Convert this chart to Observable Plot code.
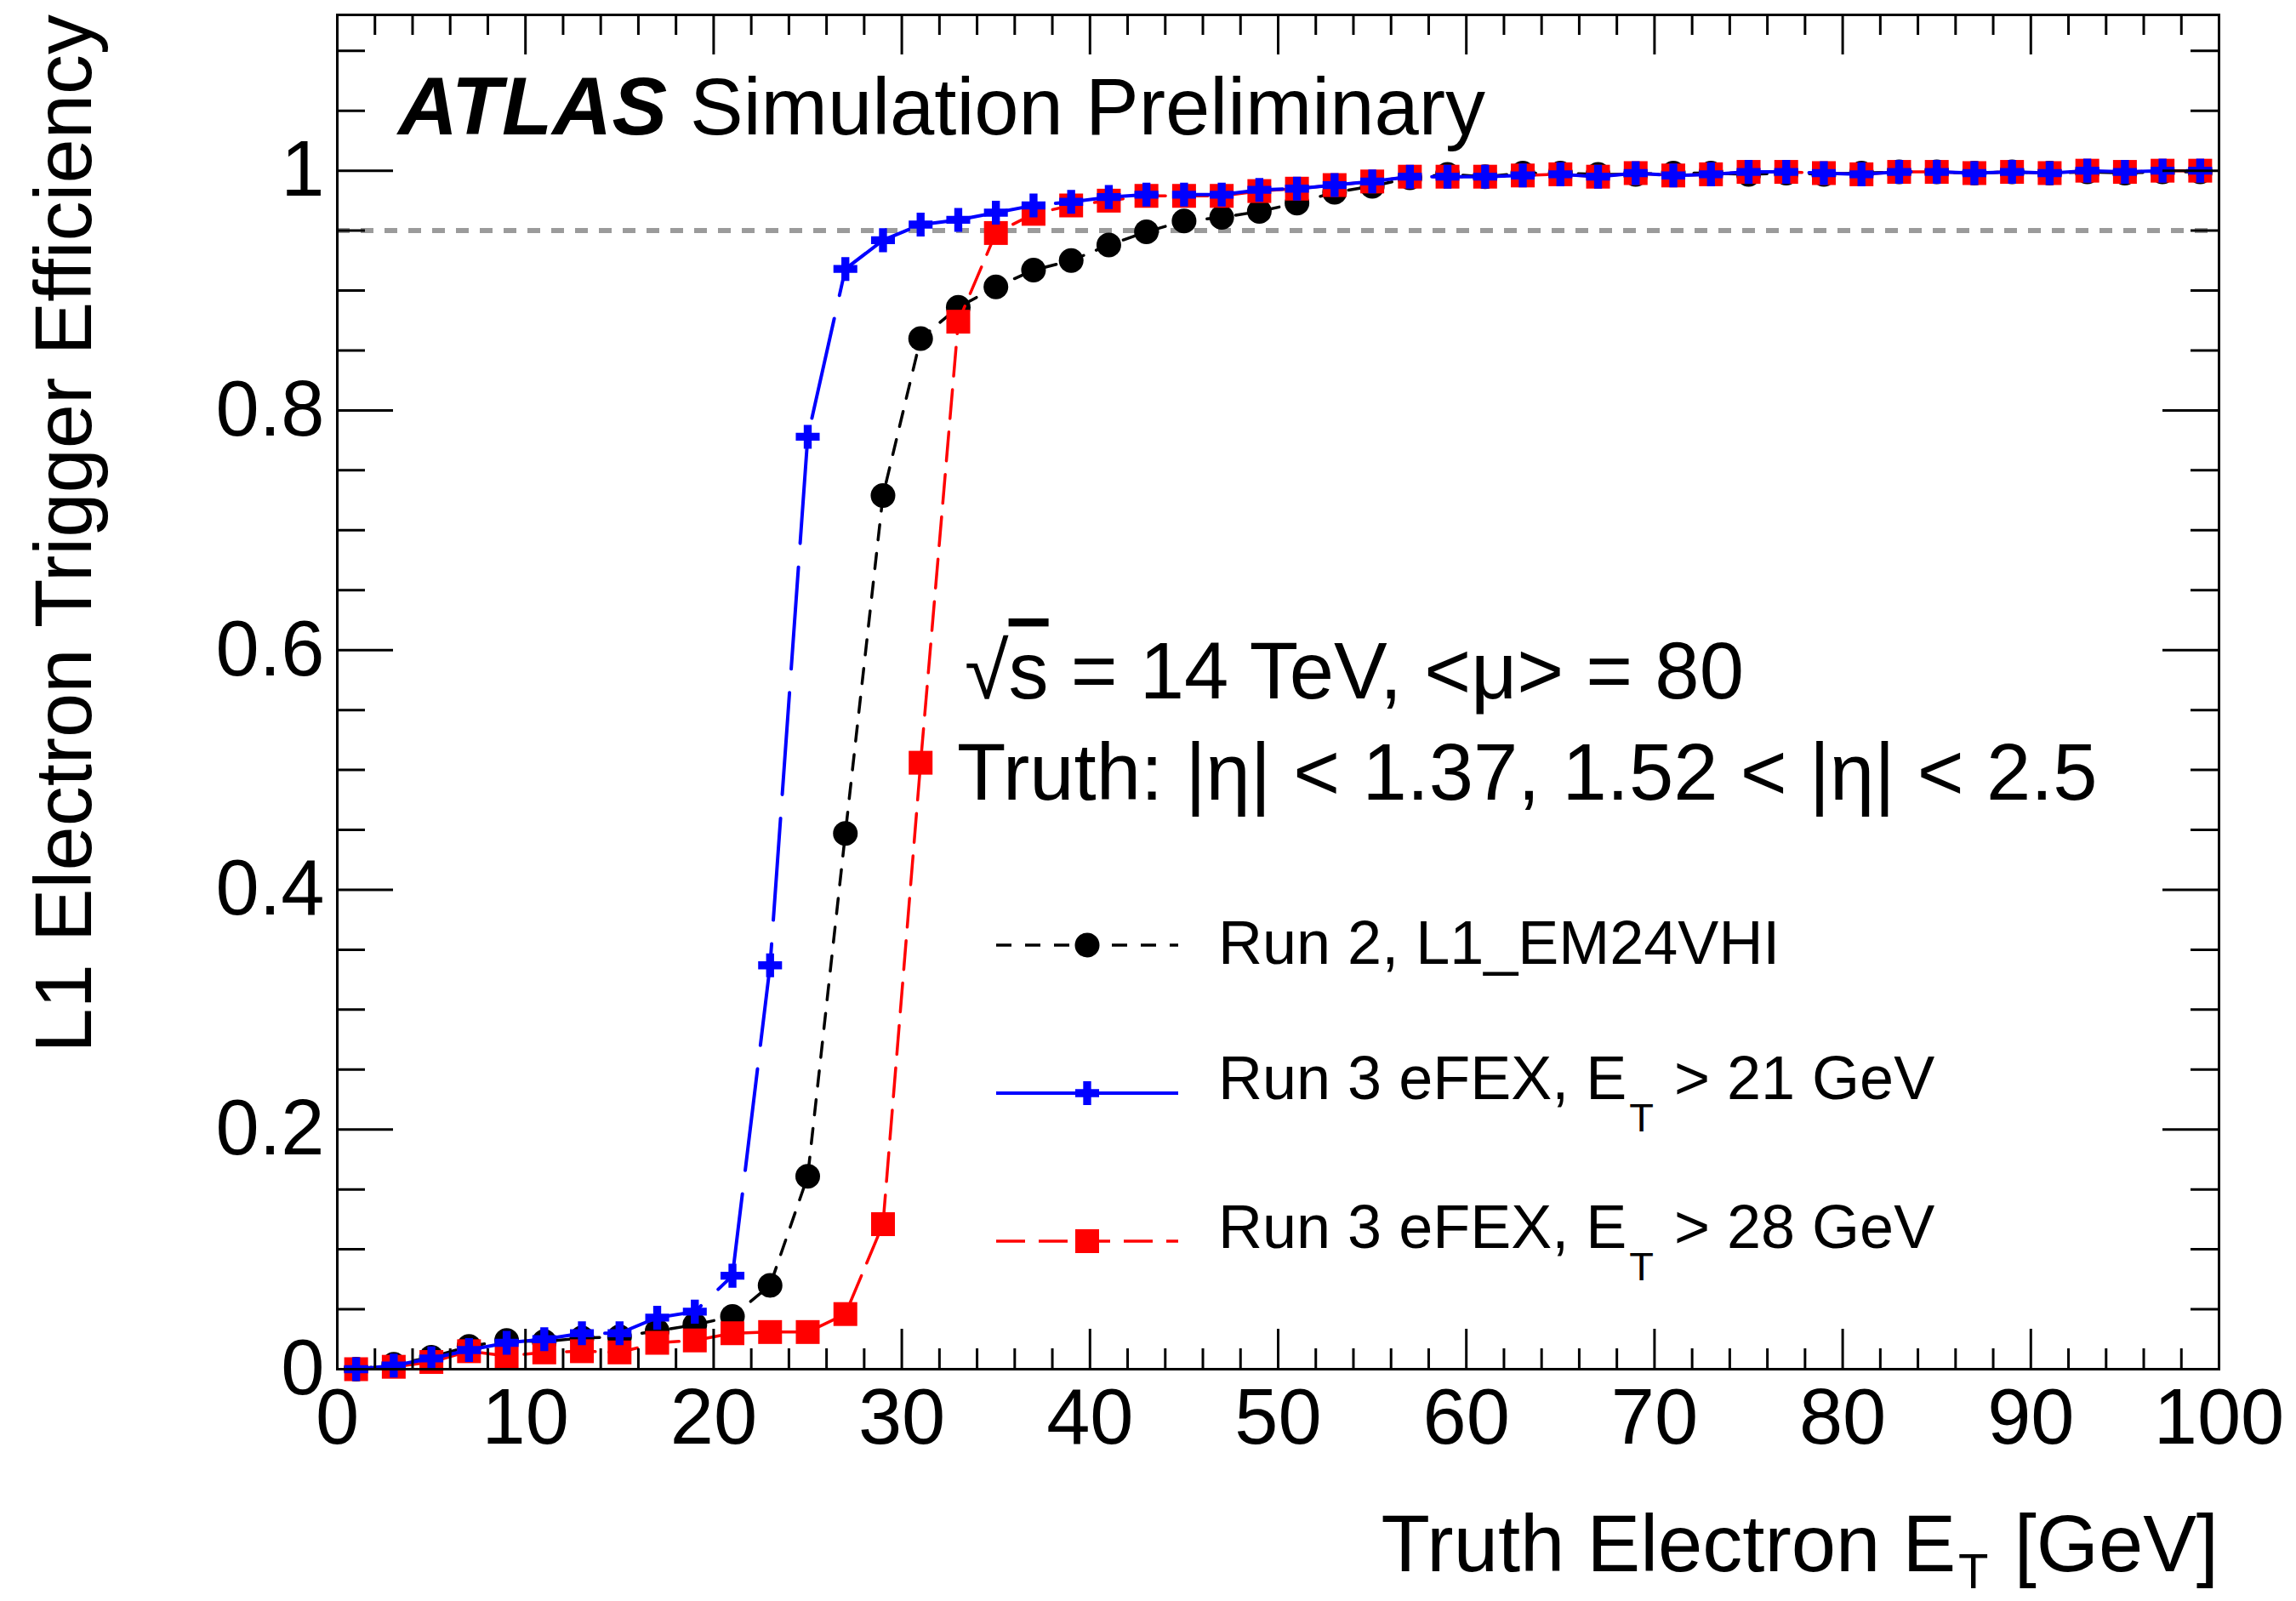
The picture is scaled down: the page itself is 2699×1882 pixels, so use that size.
<!DOCTYPE html>
<html>
<head>
<meta charset="utf-8">
<script src="https://cdn.jsdelivr.net/npm/d3@7"></script>
<script src="https://cdn.jsdelivr.net/npm/@observablehq/plot@0.6"></script>
<style>
  html, body { margin: 0; padding: 0; background: #ffffff; }
  #chart { width: 2699px; height: 1882px; }
</style>
</head>
<body>
<div id="chart"></div>
<script>
// ---------------- data ----------------
const etBins = [1,3,5,7,9,11,13,15,17,19,21,23,25,27,29,31,33,35,37,39,41,43,45,47,49,
                51,53,55,57,59,61,63,65,67,69,71,73,75,77,79,81,83,85,87,89,91,93,95,97,99];

const run2Eff = [0.000,0.004,0.010,0.019,0.024,0.023,0.026,0.027,0.032,0.037,
                 0.044,0.070,0.161,0.447,0.729,0.860,0.886,0.903,0.917,0.925,
                 0.938,0.949,0.958,0.961,0.966,0.973,0.982,0.987,0.994,0.997,
                 0.995,0.998,0.998,0.997,0.997,0.998,0.998,0.997,0.998,0.997,
                 0.998,0.999,0.999,0.998,0.999,0.998,0.999,0.998,0.999,0.999];

const efex21Eff = [0.000,0.003,0.009,0.016,0.022,0.025,0.030,0.030,0.043,0.048,
                   0.078,0.337,0.778,0.918,0.942,0.955,0.959,0.965,0.971,0.974,
                   0.978,0.980,0.980,0.980,0.984,0.985,0.988,0.991,0.995,0.995,
                   0.995,0.996,0.997,0.995,0.998,0.996,0.997,0.999,0.999,0.998,
                   0.997,0.999,0.999,0.998,0.999,0.998,1.000,0.999,1.000,1.000];

const efex28Eff = [0.000,0.002,0.006,0.015,0.011,0.014,0.015,0.014,0.022,0.024,
                   0.030,0.031,0.031,0.046,0.121,0.506,0.874,0.948,0.964,0.971,
                   0.975,0.979,0.979,0.979,0.983,0.985,0.988,0.991,0.995,0.995,
                   0.995,0.996,0.997,0.995,0.998,0.996,0.997,0.999,0.999,0.998,
                   0.997,0.999,0.999,0.998,0.999,0.998,1.000,0.999,1.000,1.000];

const seriesNames = ["Run 2, L1_EM24VHI", "Run 3 eFEX, E_{T} > 21 GeV", "Run 3 eFEX, E_{T} > 28 GeV"];
const seriesColors = ["#000000", "#0000ff", "#ff0000"];

const xMajorTicks = [0,10,20,30,40,50,60,70,80,90,100];
const xMinorTicks = d3.range(0, 101, 2).filter(d => d % 10 !== 0);
const yMajorTicks = [0,0.2,0.4,0.6,0.8,1];
const yMinorTicks = [0.05,0.1,0.15,0.25,0.3,0.35,0.45,0.5,0.55,0.65,0.7,0.75,0.85,0.9,0.95,1.05,1.1];
const threshold = 0.95;

const xTitle = "Truth Electron E_{T} [GeV]";
const yTitle = "L1 Electron Trigger Efficiency";
const atlasLabel = "ATLAS";
const atlasSuffix = "Simulation Preliminary";
const infoLine1 = ["√", "s", " = 14 TeV, <μ> = 80"];
const infoLine2 = "Truth: |η| < 1.37, 1.52 < |η| < 2.5";

// ---------------- layout ----------------
const FONT = "'Liberation Sans', Arial, Helvetica, sans-serif";
const W = 2699, H = 1882;
const mL = 396, mR = 91, mT = 17, mB = 273;
const FW = W - mL - mR, FH = H - mT - mB;

const rows = s => etBins.map((et, i) => ({et, eff: s[i]}));
const run2Rows = rows(run2Eff), e21Rows = rows(efex21Eff), e28Rows = rows(efex28Eff);

const styles = {
  run2: {stroke: seriesColors[0], dash: "18,16", width: 3.5, symbol: "circle", r: 14.5},
  e21:  {stroke: seriesColors[1], dash: "120,28", width: 4, symbol: "cross", r: 11.8},
  e28:  {stroke: seriesColors[2], dash: "34,16", width: 3.5, symbol: "square", r: 15.8}
};

const tickStyle = {stroke: "#000", strokeWidth: 3};

const plot = Plot.plot({
  width: W, height: H,
  marginLeft: mL, marginRight: mR, marginTop: mT, marginBottom: mB,
  style: {background: "#ffffff", fontFamily: FONT, color: "#000"},
  x: {domain: [0, 100], axis: null},
  y: {domain: [0, 1.13], axis: null},
  marks: [
    Plot.ruleY([threshold], {stroke: "#9b9b9b", strokeWidth: 6, strokeDasharray: "15,13"}),
    Plot.line(run2Rows, {x: "et", y: "eff", stroke: styles.run2.stroke, strokeWidth: styles.run2.width, strokeDasharray: styles.run2.dash}),
    Plot.dot(run2Rows, {x: "et", y: "eff", symbol: styles.run2.symbol, r: styles.run2.r, fill: styles.run2.stroke}),
    Plot.line(e28Rows, {x: "et", y: "eff", stroke: styles.e28.stroke, strokeWidth: styles.e28.width, strokeDasharray: styles.e28.dash}),
    Plot.dot(e28Rows, {x: "et", y: "eff", symbol: styles.e28.symbol, r: styles.e28.r, fill: styles.e28.stroke}),
    Plot.line(e21Rows, {x: "et", y: "eff", stroke: styles.e21.stroke, strokeWidth: styles.e21.width, strokeDasharray: styles.e21.dash}),
    Plot.dot(e21Rows, {x: "et", y: "eff", symbol: styles.e21.symbol, r: styles.e21.r, fill: styles.e21.stroke}),
    // inward ticks (bottom/top/left/right)
    Plot.tickX(xMajorTicks, {x: d => d, ...tickStyle, insetTop: FH - 47}),
    Plot.tickX(xMinorTicks, {x: d => d, ...tickStyle, insetTop: FH - 24}),
    Plot.tickX(xMajorTicks, {x: d => d, ...tickStyle, insetBottom: FH - 47}),
    Plot.tickX(xMinorTicks, {x: d => d, ...tickStyle, insetBottom: FH - 24}),
    Plot.tickY(yMajorTicks, {y: d => d, ...tickStyle, insetRight: FW - 66}),
    Plot.tickY(yMinorTicks, {y: d => d, ...tickStyle, insetRight: FW - 33}),
    Plot.tickY(yMajorTicks, {y: d => d, ...tickStyle, insetLeft: FW - 66}),
    Plot.tickY(yMinorTicks, {y: d => d, ...tickStyle, insetLeft: FW - 33}),
    Plot.frame({stroke: "#000", strokeWidth: 3}),
    // tick labels
    Plot.text(xMajorTicks, {x: d => d, frameAnchor: "bottom", lineAnchor: "top", dy: 22,
      text: d => String(d), fontSize: 92, fill: "#000"}),
    Plot.text(yMajorTicks, {y: d => d, frameAnchor: "left", textAnchor: "end", dx: -15,
      text: d => String(d), fontSize: 92, fill: "#000"})
  ]
});

document.getElementById("chart").appendChild(plot);

// ---------------- annotations ----------------
const svg = d3.select(plot);
const g = svg.append("g").attr("font-family", FONT).attr("fill", "#000").attr("text-anchor", "start");

function richText(sel, str, subSize, subDy) {
  const parts = str.split(/_\{([^}]*)\}/);
  let shifted = 0;
  parts.forEach((p, i) => {
    if (i % 2 === 1) {
      sel.append("tspan").attr("font-size", subSize).attr("dy", subDy).attr("dx", 3).text(p);
      shifted = subDy;
    } else {
      if (!p) return;
      const ts = sel.append("tspan").text(p);
      if (shifted) { ts.attr("dy", -shifted).attr("dx", 4); shifted = 0; }
    }
  });
}

// ATLAS Simulation Preliminary
g.append("text").attr("x", 468).attr("y", 158).attr("font-size", 97)
  .attr("font-weight", "bold").attr("font-style", "italic").text(atlasLabel);
g.append("text").attr("x", 811).attr("y", 158).attr("font-size", 94).text(atlasSuffix);

// sqrt(s) line
const l1 = g.append("text").attr("x", 1134).attr("y", 821).attr("font-size", 94);
l1.append("tspan").text(infoLine1[0]);
l1.append("tspan").attr("style", "text-decoration: overline").text(infoLine1[1]);
l1.append("tspan").text(infoLine1[2]);
g.append("text").attr("x", 1125).attr("y", 940).attr("font-size", 94).text(infoLine2);

// axis titles
const xt = g.append("text").attr("x", 2608).attr("y", 1847).attr("font-size", 94).attr("text-anchor", "end");
richText(xt, xTitle, 58, 20);
g.append("text").attr("transform", "translate(107,17) rotate(-90)")
  .attr("text-anchor", "end").attr("font-size", 94).text(yTitle);

// legend
const legendOrder = [
  {name: seriesNames[0], st: styles.run2, sym: d3.symbolCircle},
  {name: seriesNames[1], st: styles.e21, sym: d3.symbolCross},
  {name: seriesNames[2], st: styles.e28, sym: d3.symbolSquare}
];
const legendMarkerY = [1111, 1285, 1459];
const legendTextY = [1133, 1292, 1467];
const legendX0 = 1171, legendX1 = 1385, legendMX = 1278, legendTX = 1432;
legendOrder.forEach((e, i) => {
  const y = legendMarkerY[i];
  g.append("line").attr("x1", legendX0).attr("x2", legendX1).attr("y1", y).attr("y2", y)
    .attr("stroke", e.st.stroke).attr("stroke-width", e.st.width)
    .attr("stroke-dasharray", i === 1 ? null : e.st.dash);
  g.append("path").attr("transform", `translate(${legendMX},${y})`)
    .attr("d", d3.symbol(e.sym, Math.PI * e.st.r * e.st.r)())
    .attr("fill", e.st.stroke);
  const t = g.append("text").attr("x", legendTX).attr("y", legendTextY[i]).attr("font-size", 72);
  richText(t, e.name, 47, 38);
});
</script>
</body>
</html>
